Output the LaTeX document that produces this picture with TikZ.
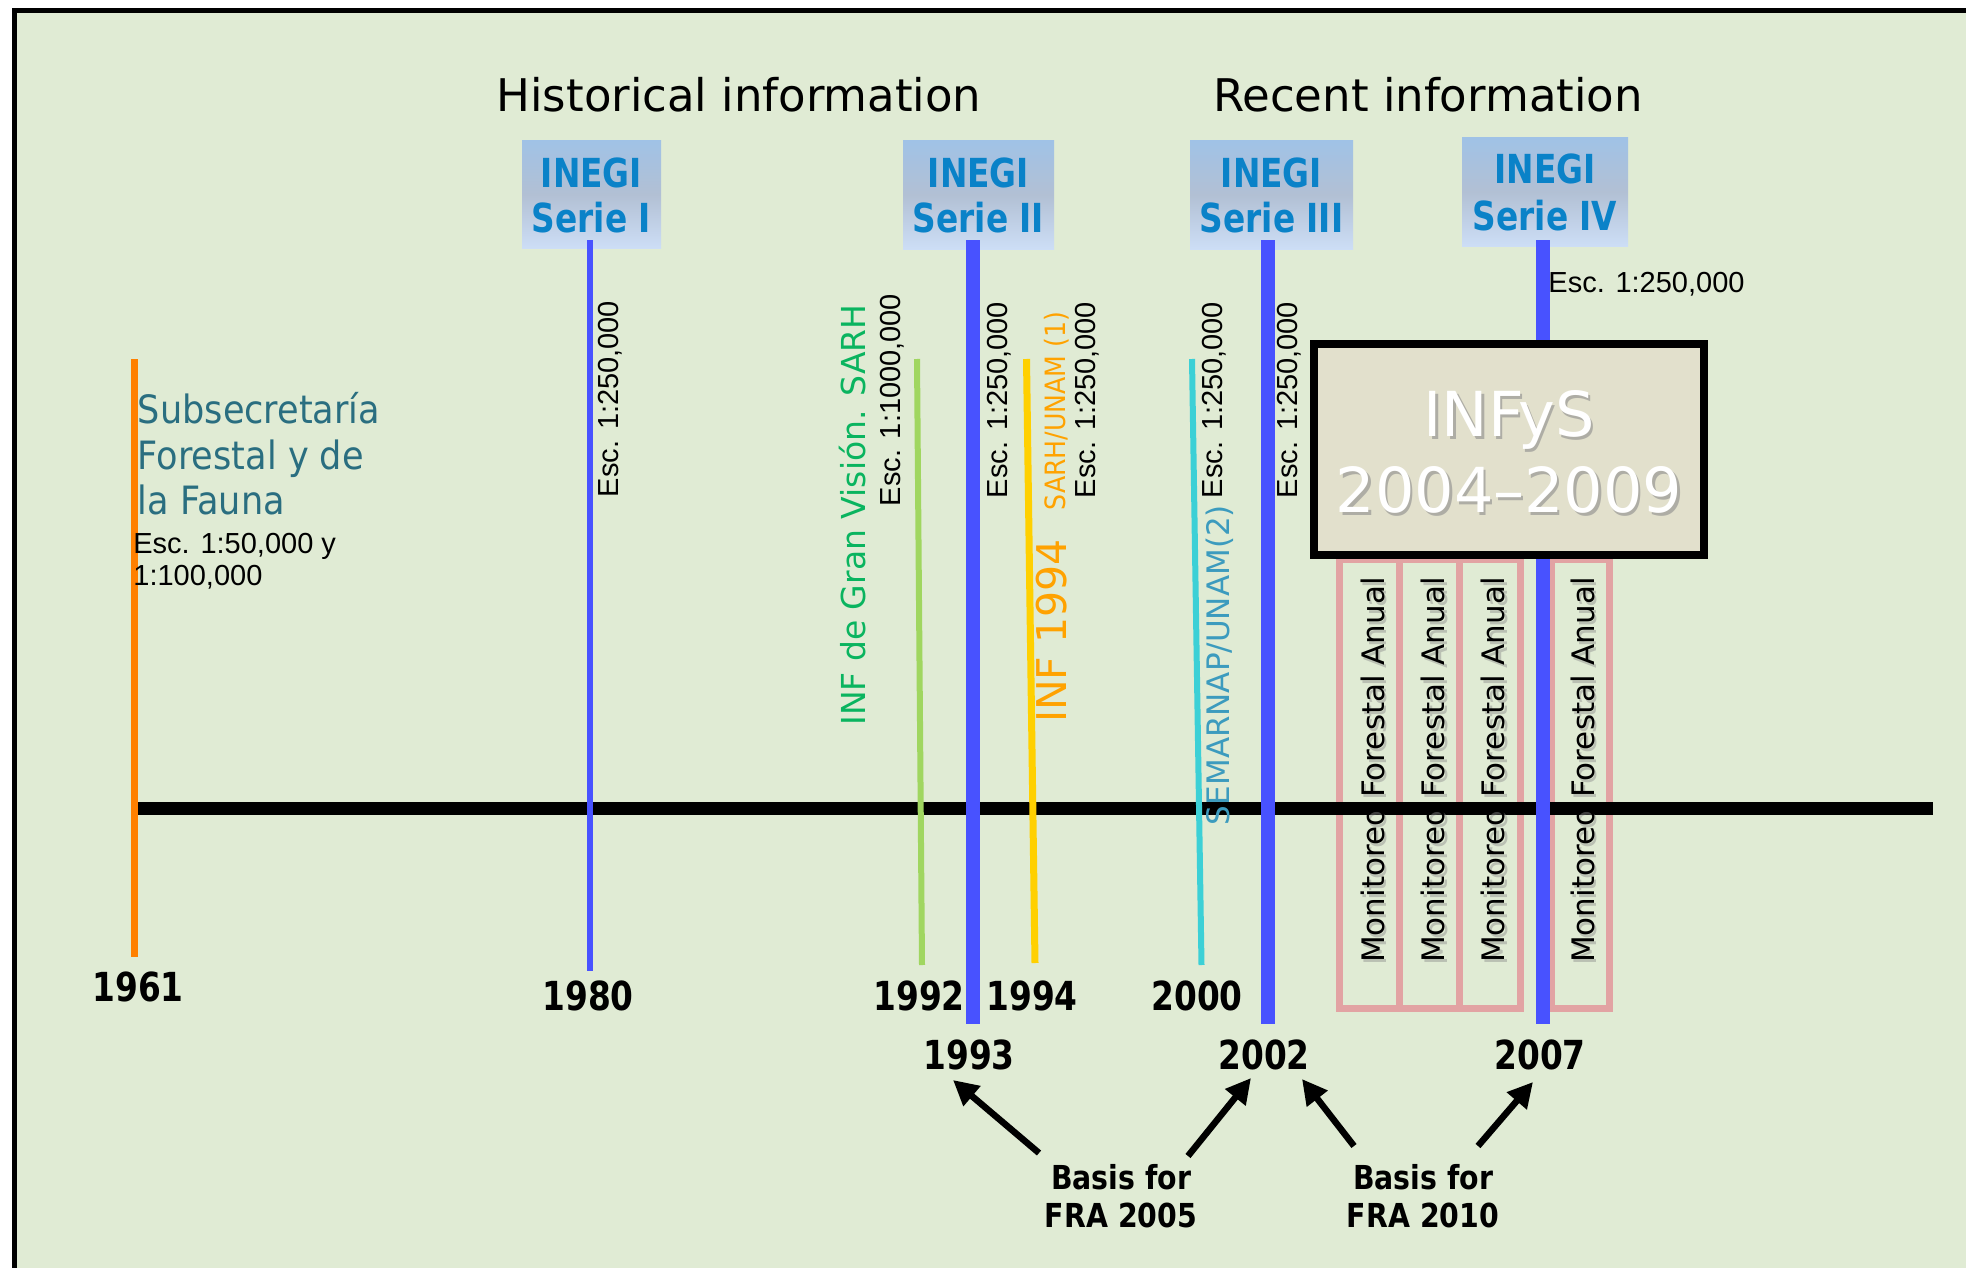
\documentclass[tikz,border=0pt]{standalone}
\usepackage{fontspec}
\setmainfont{DejaVu Sans}
\newfontfamily\condf[FakeStretch=0.9]{DejaVu Sans}
\newfontfamily\condn[FakeStretch=0.82]{DejaVu Sans}
\newfontfamily\condb[FakeStretch=0.86]{DejaVu Sans}
\newfontfamily\arialf{Liberation Sans}
\usetikzlibrary{arrows.meta}
\definecolor{bg}{RGB}{224,235,212}
\definecolor{inegiblue}{RGB}{10,130,200}
\definecolor{boxtop}{RGB}{160,194,230}
\definecolor{boxmid}{RGB}{178,192,212}
\definecolor{boxbot}{RGB}{205,222,246}
\definecolor{blueL}{RGB}{72,82,255}
\definecolor{orangeL}{RGB}{255,128,0}
\definecolor{greenL}{RGB}{160,214,96}
\definecolor{yellowL}{RGB}{255,208,0}
\definecolor{cyanL}{RGB}{60,208,214}
\definecolor{pinkc}{RGB}{226,163,163}
\definecolor{infbg}{RGB}{226,224,204}
\definecolor{subcol}{RGB}{42,110,128}
\definecolor{infgreen}{RGB}{10,180,95}
\definecolor{inforange}{RGB}{255,162,0}
\definecolor{semcol}{RGB}{60,155,190}
\tikzset{
  titletxt/.style={font=\fontsize{22.5}{27}\selectfont, anchor=base, inner sep=0pt},
  inegibox/.style={top color=boxtop, bottom color=boxbot, middle color=boxmid, draw=none, inner sep=0pt, minimum height=54pt},
  inegitxt/.style={font=\condn\bfseries\fontsize{20}{22}\selectfont, text=inegiblue, anchor=base, inner sep=0pt},
  esc/.style={font=\arialf\fontsize{14.5}{16}\selectfont, rotate=90, inner sep=0pt},
  escH/.style={font=\arialf\fontsize{14.5}{16}\selectfont, inner sep=0pt},
  rottxt/.style={rotate=90, inner sep=0pt},
  yr/.style={font=\condn\bfseries\fontsize{20}{22}\selectfont, anchor=base, inner sep=0pt},
  basis/.style={font=\condb\bfseries\fontsize{16.5}{18}\selectfont, anchor=base, inner sep=0pt},
  montxt/.style={font=\fontsize{15.5}{17}\selectfont, rotate=90, inner sep=0pt},
  monshadow/.style={montxt, text=black!45, opacity=0.45},
  inftxt/.style={font=\fontsize{31}{34}\selectfont, anchor=base, inner sep=0pt},
  subtxt/.style={font=\condf\fontsize{19.5}{22}\selectfont, text=subcol, anchor=base west, inner sep=0pt},
  arr/.style={line width=3.25pt, -{Triangle[length=12.5pt,width=12.5pt]}},
  pinkbox/.style={draw=pinkc, line width=3.5pt}
}
\begin{document}
\begin{tikzpicture}[x=0.5pt,y=-0.5pt]
\useasboundingbox (0,0) rectangle (1966,1268);
\clip (0,0) rectangle (1966,1268);
\fill[white] (0,0) rectangle (1966,1268);
\fill[bg] (14.5,10.3) rectangle (1990,1290);
\draw[line width=2.5pt] (14.5,1290) -- (14.5,10.3) -- (1990,10.3);

% titles
\node[titletxt] (hist) at (739,112) {Historical information};
\node[titletxt] (rec) at (1428,112) {Recent information};

% INEGI boxes
\node[inegibox, minimum width=69.5pt] (s1) at (591.5,194.5) {};
\node[inegibox, minimum width=75.5pt] (s2) at (978.5,195) {};
\node[inegibox, minimum width=81.5pt] (s3) at (1271.5,195) {};
\node[inegibox, minimum width=83pt] (s4) at (1545,192) {};
\node[inegitxt] (s1a) at (591.5,188) {INEGI};
\node[inegitxt] (s1b) at (591.5,232) {Serie I};
\node[inegitxt] (s2a) at (978.5,187) {INEGI};
\node[inegitxt] (s2b) at (978.5,232) {Serie II};
\node[inegitxt] (s3a) at (1271.5,187) {INEGI};
\node[inegitxt] (s3b) at (1271.5,232) {Serie III};
\node[inegitxt] (s4a) at (1545,184) {INEGI};
\node[inegitxt] (s4b) at (1545,230) {Serie IV};

% pink monitoring boxes
\draw[pinkbox] (1339,559) rectangle (1399,1008);
\draw[pinkbox] (1399,559) rectangle (1459,1008);
\draw[pinkbox] (1459,559) rectangle (1520,1008);
\draw[pinkbox] (1551,559) rectangle (1609,1008);

% timeline
\draw[line width=6.5pt] (137,808.5) -- (1933,808.5);

% vertical lines
\draw[orangeL, line width=3.75pt] (134.5,359) -- (134.5,957);
\draw[blueL, line width=3pt] (590,240) -- (590,971);
\draw[greenL, line width=3pt] (917,359) -- (922,965);
\draw[blueL, line width=7pt] (973,240) -- (973,1024);
\draw[yellowL, line width=3.5pt] (1026.5,359) -- (1035,963);
\draw[cyanL, line width=3pt] (1192,359) -- (1201.5,965);
\draw[blueL, line width=7pt] (1268,240) -- (1268,1024);
\draw[blueL, line width=7pt] (1543,240) -- (1543,1024);

% INFyS box
\node[draw, line width=4pt, fill=infbg, minimum width=195pt, minimum height=105.5pt, inner sep=0pt] (infys) at (1509,449.5) {};
\node[inftxt, text=black!45, opacity=0.6] (inf1s) at (1511.5,439) {INFyS};
\node[inftxt, text=black!45, opacity=0.6] (inf2s) at (1511.5,515) {2004–2009};
\node[inftxt, text=white] (inf1) at (1509,436) {INFyS};
\node[inftxt, text=white] (inf2) at (1509,512) {2004–2009};

% monitoring texts
\node[monshadow] (m1s) at (1375,773) {Monitoreo Forestal Anual};
\node[monshadow] (m2s) at (1435.5,773) {Monitoreo Forestal Anual};
\node[monshadow] (m3s) at (1495.5,773) {Monitoreo Forestal Anual};
\node[monshadow] (m4s) at (1585,773) {Monitoreo Forestal Anual};
\node[montxt] (m1) at (1372.5,770) {Monitoreo Forestal Anual};
\node[montxt] (m2) at (1433,770) {Monitoreo Forestal Anual};
\node[montxt] (m3) at (1493,770) {Monitoreo Forestal Anual};
\node[montxt] (m4) at (1582.5,770) {Monitoreo Forestal Anual};

% left text
\node[subtxt] (sub1) at (137.5,423) {Subsecretaría};
\node[subtxt] (sub2) at (137.5,469) {Forestal y de};
\node[subtxt] (sub3) at (137.5,514) {la Fauna};
\node[escH, anchor=base west] (e61a) at (133,553.5) {Esc. 1:50,000 y};
\node[escH, anchor=base west] (e61b) at (133,585) {1:100,000};

% rotated labels
\node[esc] (e80) at (610,399) {Esc. 1:250,000};
\node[esc] (e92) at (892,400) {Esc. 1:1000,000};
\node[esc] (e93) at (999,400) {Esc. 1:250,000};
\node[esc] (e94) at (1087,400) {Esc. 1:250,000};
\node[esc] (e00) at (1214,400) {Esc. 1:250,000};
\node[esc] (e02) at (1289,400) {Esc. 1:250,000};
\node[escH, anchor=base west] (e07) at (1548,292) {Esc. 1:250,000};
\node[rottxt, text=infgreen, font=\fontsize{16.5}{18}\selectfont] (gv) at (853,515) {INF de Gran Visión. SARH};
\node[rottxt, text=inforange, font=\fontsize{20.5}{22}\selectfont] (inf94) at (1051.5,631) {INF 1994};
\node[rottxt, text=inforange, font=\condf\fontsize{14}{16}\selectfont] (su1) at (1057,411) {SARH/UNAM (1)};
\node[rottxt, text=semcol, font=\fontsize{15.5}{17}\selectfont] (sem) at (1220,665) {SEMARNAP/UNAM(2)};

% years
\node[yr] (y1961) at (138,1001) {1961};
\node[yr] (y1980) at (588,1010) {1980};
\node[yr] (y1992) at (919,1010) {1992};
\node[yr] (y1994) at (1032,1010) {1994};
\node[yr] (y2000) at (1197,1010) {2000};
\node[yr] (y1993) at (969,1069) {1993};
\node[yr] (y2002) at (1264,1069) {2002};
\node[yr] (y2007) at (1540,1069) {2007};

% basis labels
\node[basis] (b05a) at (1121,1189) {Basis for};
\node[basis] (b05b) at (1121,1227) {FRA 2005};
\node[basis] (b10a) at (1423,1189) {Basis for};
\node[basis] (b10b) at (1423,1227) {FRA 2010};

% arrows
\coordinate (a1s) at (1039,1153);
\coordinate (a1e) at (953,1080);
\coordinate (a2s) at (1188,1156);
\coordinate (a2e) at (1251,1078);
\coordinate (a3s) at (1354,1146);
\coordinate (a3e) at (1302,1079);
\coordinate (a4s) at (1478,1146);
\coordinate (a4e) at (1533,1082);
\draw[arr] (a1s) -- (a1e);
\draw[arr] (a2s) -- (a2e);
\draw[arr] (a3s) -- (a3e);
\draw[arr] (a4s) -- (a4e);
\end{tikzpicture}
\end{document}
